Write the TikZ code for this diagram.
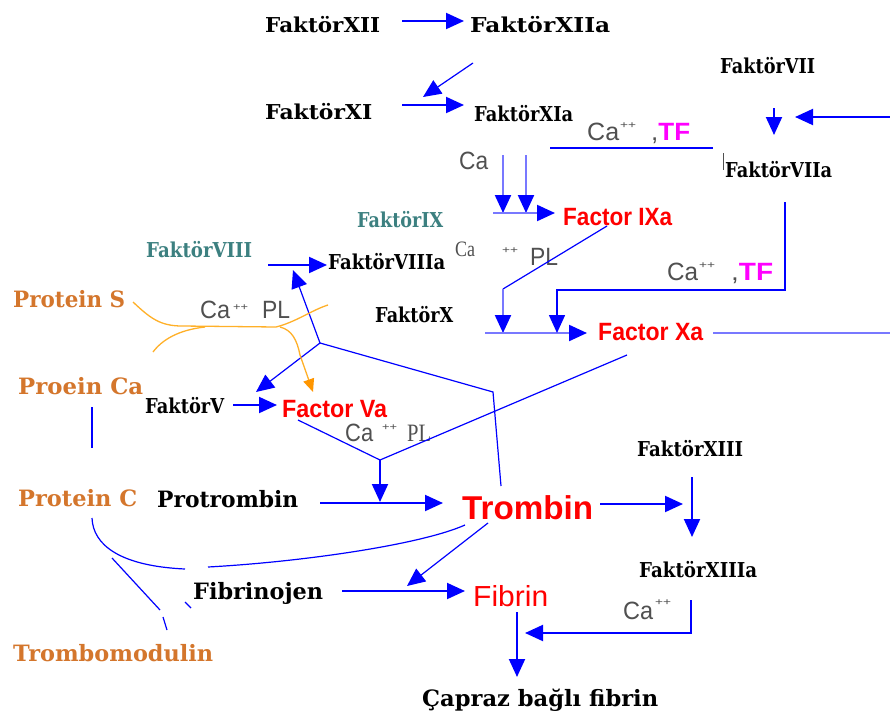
\documentclass[tikz,border=0pt]{standalone}
\usepackage{fontspec}
\usepackage{graphicx}
\setmainfont{DejaVu Serif}
\newfontfamily\sansfam{Liberation Sans}
\newfontfamily\serfam{Liberation Serif}
\usetikzlibrary{arrows.meta}

\definecolor{pOrange}{RGB}{212,118,44}
\definecolor{pTeal}{RGB}{60,128,128}
\definecolor{pGray}{RGB}{80,80,80}
\definecolor{pBlue}{RGB}{0,0,255}
\definecolor{pLight}{RGB}{120,120,255}
\definecolor{pMag}{RGB}{255,0,255}
\definecolor{pRed}{RGB}{255,0,0}
\definecolor{pYellow}{RGB}{255,176,40}
\definecolor{pArrowOr}{RGB}{255,150,0}

% stretch a label horizontally to a given width, keeping its height
\newcommand\fitto[2]{\resizebox{#1pt}{\height}{#2}}

\tikzset{
  lbl/.style={inner sep=0pt, anchor=base west},
  slab/.style={lbl, font=\bfseries\fontsize{20.5}{22}\selectfont},
  big/.style={lbl, font=\bfseries\fontsize{22.5}{24}\selectfont},
  prot/.style={lbl, text=pOrange, font=\bfseries\fontsize{22.5}{24}\selectfont},
  act/.style={lbl, text=pRed, font=\sansfam\bfseries\fontsize{25}{27}\selectfont},
  cof/.style={lbl, text=pGray, font=\sansfam\fontsize{25}{27}\selectfont},
  cofs/.style={lbl, text=pGray, font=\serfam\fontsize{25}{27}\selectfont},
  plus/.style={lbl, text=pGray, font=\sansfam\fontsize{10}{10}\selectfont},
  head/.style={-{Triangle[length=18pt,width=16pt]}},
  arr/.style={draw=pBlue, line width=2pt, head},
  larr/.style={draw=pLight, line width=2.2pt, -{Triangle[length=18pt,width=16pt,color=pBlue]}},
  lline/.style={draw=pLight, line width=2.2pt},
  thin/.style={draw=pBlue, line width=1.2pt},
  tarr/.style={thin, head},
  orng/.style={draw=pYellow, line width=1.3pt},
}

\begin{document}
\begin{tikzpicture}[x=1pt,y=-1pt]
\path[use as bounding box, fill=white] (0,0) rectangle (890,717);

% ---------- factors ----------
\node[slab] (f12)  at (265,33)  {\fitto{115}{FaktörXII}};
\node[slab] (f12a) at (470,33)  {\fitto{140}{FaktörXIIa}};
\node[slab] (f11)  at (265,119) {\fitto{107}{FaktörXI}};
\node[slab] (f11a) at (474,121) {\fitto{99}{FaktörXIa}};
\node[slab] (f7)   at (720,73)  {\fitto{95}{FaktörVII}};
\node[slab] (f7a)  at (725,177) {\fitto{107}{FaktörVIIa}};
\node[slab, text=pTeal] (f9) at (357,227) {\fitto{86}{FaktörIX}};
\node[slab, text=pTeal] (f8) at (146,257) {\fitto{106}{FaktörVIII}};
\node[slab] (f8a)  at (328,269) {\fitto{117}{FaktörVIIIa}};
\node[slab] (f10)  at (375,322) {\fitto{78}{FaktörX}};
\node[slab] (f5)   at (145,413) {\fitto{79}{FaktörV}};
\node[slab] (f13)  at (637,456) {\fitto{106}{FaktörXIII}};
\node[slab] (f13a) at (639,577) {\fitto{118}{FaktörXIIIa}};
\node[big]  (pro)  at (157,507) {\fitto{141}{Protrombin}};
\node[big]  (fgen) at (193,599) {\fitto{130}{Fibrinojen}};
\node[big]  (cross) at (422,706) {\fitto{236}{Çapraz bağlı fibrin}};

% ---------- inhibitors ----------
\node[prot] (ps)  at (13,307) {\fitto{112}{Protein S}};
\node[prot] (pca) at (18,394) {\fitto{125}{Proein Ca}};
\node[prot] (pc)  at (18,506) {\fitto{119}{Protein C}};
\node[prot] (tm)  at (13,661) {\fitto{200}{Trombomodulin}};

% ---------- active enzymes ----------
\node[act] (f9a)  at (563,225) {\fitto{109}{Factor IXa}};
\node[act] (f10a) at (598,340) {\fitto{105}{Factor Xa}};
\node[act] (f5a)  at (282,417) {\fitto{105}{Factor Va}};
\node[act, font=\sansfam\bfseries\fontsize{33}{36}\selectfont] (tr) at (462,519) {\fitto{131}{Trombin}};
\node[act, font=\sansfam\fontsize{29}{32}\selectfont] (fib) at (473,606) {\fitto{75}{Fibrin}};

% ---------- cofactors ----------
\node[cof] (ca1) at (459,169) {\fitto{29}{Ca}};
\node[cof] (ca2) at (587,140) {\fitto{32}{Ca}};
\node[plus] (ca2p) at (620,128) {\fitto{16}{++}};
\node[cof] (tf1) at (651,140) {\fitto{39}{,\textcolor{pMag}{\bfseries TF}}};
\node[cof] (ca3) at (667,280) {\fitto{31}{Ca}};
\node[plus] (ca3p) at (699,268) {\fitto{16}{++}};
\node[cof] (tf2) at (731,280) {\fitto{42}{,\textcolor{pMag}{\bfseries TF}}};
\node[cofs, font=\serfam\fontsize{22}{24}\selectfont] (ca4) at (455,256) {\fitto{20}{Ca}};
\node[plus] (ca4p) at (502,253) {\fitto{16}{++}};
\node[cof] (pl4) at (530,265) {\fitto{28}{PL}};
\node[cof] (ca5) at (200,318) {\fitto{30}{Ca}};
\node[plus] (ca5p) at (233,310) {\fitto{15}{++}};
\node[cof] (pl5) at (262,318) {\fitto{28}{PL}};
\node[cof] (ca6) at (345,441) {\fitto{28}{Ca}};
\node[plus] (ca6p) at (382,430) {\fitto{15}{++}};
\node[cofs] (pl6) at (407,441) {\fitto{24}{PL}};
\node[cof] (ca7) at (623,619) {\fitto{30}{Ca}};
\node[plus] (ca7p) at (655,605) {\fitto{16}{++}};

% ---------- junction points ----------
\coordinate (x12s) at (402,21);  \coordinate (x12e) at (464,21);
\coordinate (x12d) at (473,63);  \coordinate (x11t) at (423,97);
\coordinate (x11s) at (402,105); \coordinate (x11e) at (464,105);
\coordinate (v7s) at (774,108);  \coordinate (v7e) at (774,135);
\coordinate (rin) at (890,117);  \coordinate (rout) at (795,117);
\coordinate (bar1) at (550,148); \coordinate (bar2) at (713,148);
\coordinate (p9a) at (503,155);  \coordinate (p9b) at (526,155);
\coordinate (q9a) at (503,213);  \coordinate (q9b) at (526,213);
\coordinate (h9s) at (493,213);  \coordinate (h9e) at (555,213);
\coordinate (d9s) at (607,226);  \coordinate (d9k) at (503,289);
\coordinate (d9e) at (503,333);
\coordinate (b7a) at (785,202);  \coordinate (b7b) at (785,290);
\coordinate (b7c) at (557,290);  \coordinate (b7d) at (557,333);
\coordinate (h10s) at (485,333); \coordinate (h10e) at (587,333);
\coordinate (r10s) at (713,333); \coordinate (r10e) at (890,333);
\coordinate (v8s) at (268,265);  \coordinate (v8e) at (327,265);
\coordinate (tbt) at (501,486);  \coordinate (tbk) at (493,392);
\coordinate (fbj) at (320,343);
\coordinate (f8in) at (293,270); \coordinate (f5in) at (256,392);
\coordinate (v5s) at (233,405);  \coordinate (v5e) at (277,405);
\coordinate (vas) at (298,420);  \coordinate (vaj) at (380,460);
\coordinate (xat) at (627,355);  \coordinate (vae) at (380,502);
\coordinate (prs) at (320,503);  \coordinate (pre) at (443,503);
\coordinate (trs) at (600,504);  \coordinate (tre) at (683,504);
\coordinate (v13s) at (692,477); \coordinate (v13e) at (692,537);
\coordinate (pcs1) at (92,407);  \coordinate (pcs2) at (92,448);
\coordinate (fgs) at (342,591);  \coordinate (fge) at (465,591);
\coordinate (fbs) at (517,612);  \coordinate (fbe) at (517,677);
\coordinate (r13a) at (691,600); \coordinate (r13b) at (691,633);
\coordinate (r13e) at (525,633);
\coordinate (tfs) at (488,523);  \coordinate (tfe) at (407,586);

% ---------- intrinsic pathway ----------
\draw[arr] (x12s) -- (x12e);
\draw[tarr] (x12d) -- (x11t);
\draw[arr] (x11s) -- (x11e);
\draw[thin] (bar1) -- (bar2);
\draw[pGray, line width=0.8pt] (723,153) -- (723,170);
\draw[larr] (p9a) -- (q9a);
\draw[larr] (p9b) -- (q9b);
\draw[larr] (h9s) -- (h9e);
\draw[thin] (d9s) -- (d9k);
\draw[larr] (d9k) -- (d9e);
\draw[larr] (h10s) -- (h10e);
\draw[lline] (r10s) -- (r10e);
\draw[arr] (v8s) -- (v8e);

% ---------- extrinsic pathway ----------
\draw[arr] (v7s) -- (v7e);
\draw[arr] (rin) -- (rout);
\draw[thin, line width=1.6pt, head] (b7a) -- (b7b) -- (b7c) -- (b7d);

% ---------- thrombin feedback ----------
\draw[thin] (tbt) -- (tbk) -- (fbj);
\draw[tarr] (fbj) -- (f8in);
\draw[tarr] (fbj) -- (f5in);
\draw[arr] (v5s) -- (v5e);

% ---------- prothrombinase ----------
\draw[thin] (vas) -- (vaj) -- (xat);
\draw[arr] (vaj) -- (vae);
\draw[arr] (prs) -- (pre);
\draw[arr] (trs) -- (tre);
\draw[arr] (v13s) -- (v13e);

% ---------- fibrin formation ----------
\draw[tarr] (tfs) -- (tfe);
\draw[arr] (fgs) -- (fge);
\draw[arr] (fbs) -- (fbe);
\draw[arr] (r13a) -- (r13b) -- (r13e);

% ---------- protein C system ----------
\draw[thin] (pcs1) -- (pcs2);
\draw[thin] (92,518) .. controls (93,545) and (120,566) .. (185,569);
\draw[thin] (208,567) .. controls (300,562) and (420,545) .. (465,525);
\draw[thin] (112,558) -- (160,610);
\draw[thin] (163,617) -- (167,630);
\draw[thin] (185,602) -- (191,608);

% ---------- protein S ----------
\draw[orng] (133,302) .. controls (150,318) and (160,326) .. (182,326)
  -- (276,327) .. controls (296,322) and (312,310) .. (328,305);
\draw[orng] (153,352) .. controls (162,340) and (178,330) .. (205,327);
\draw[orng, -{Triangle[length=13pt,width=11pt,color=pArrowOr]}]
  (280,327) .. controls (292,330) and (297,340) .. (300,355) -- (313,392);
\end{tikzpicture}
\end{document}
